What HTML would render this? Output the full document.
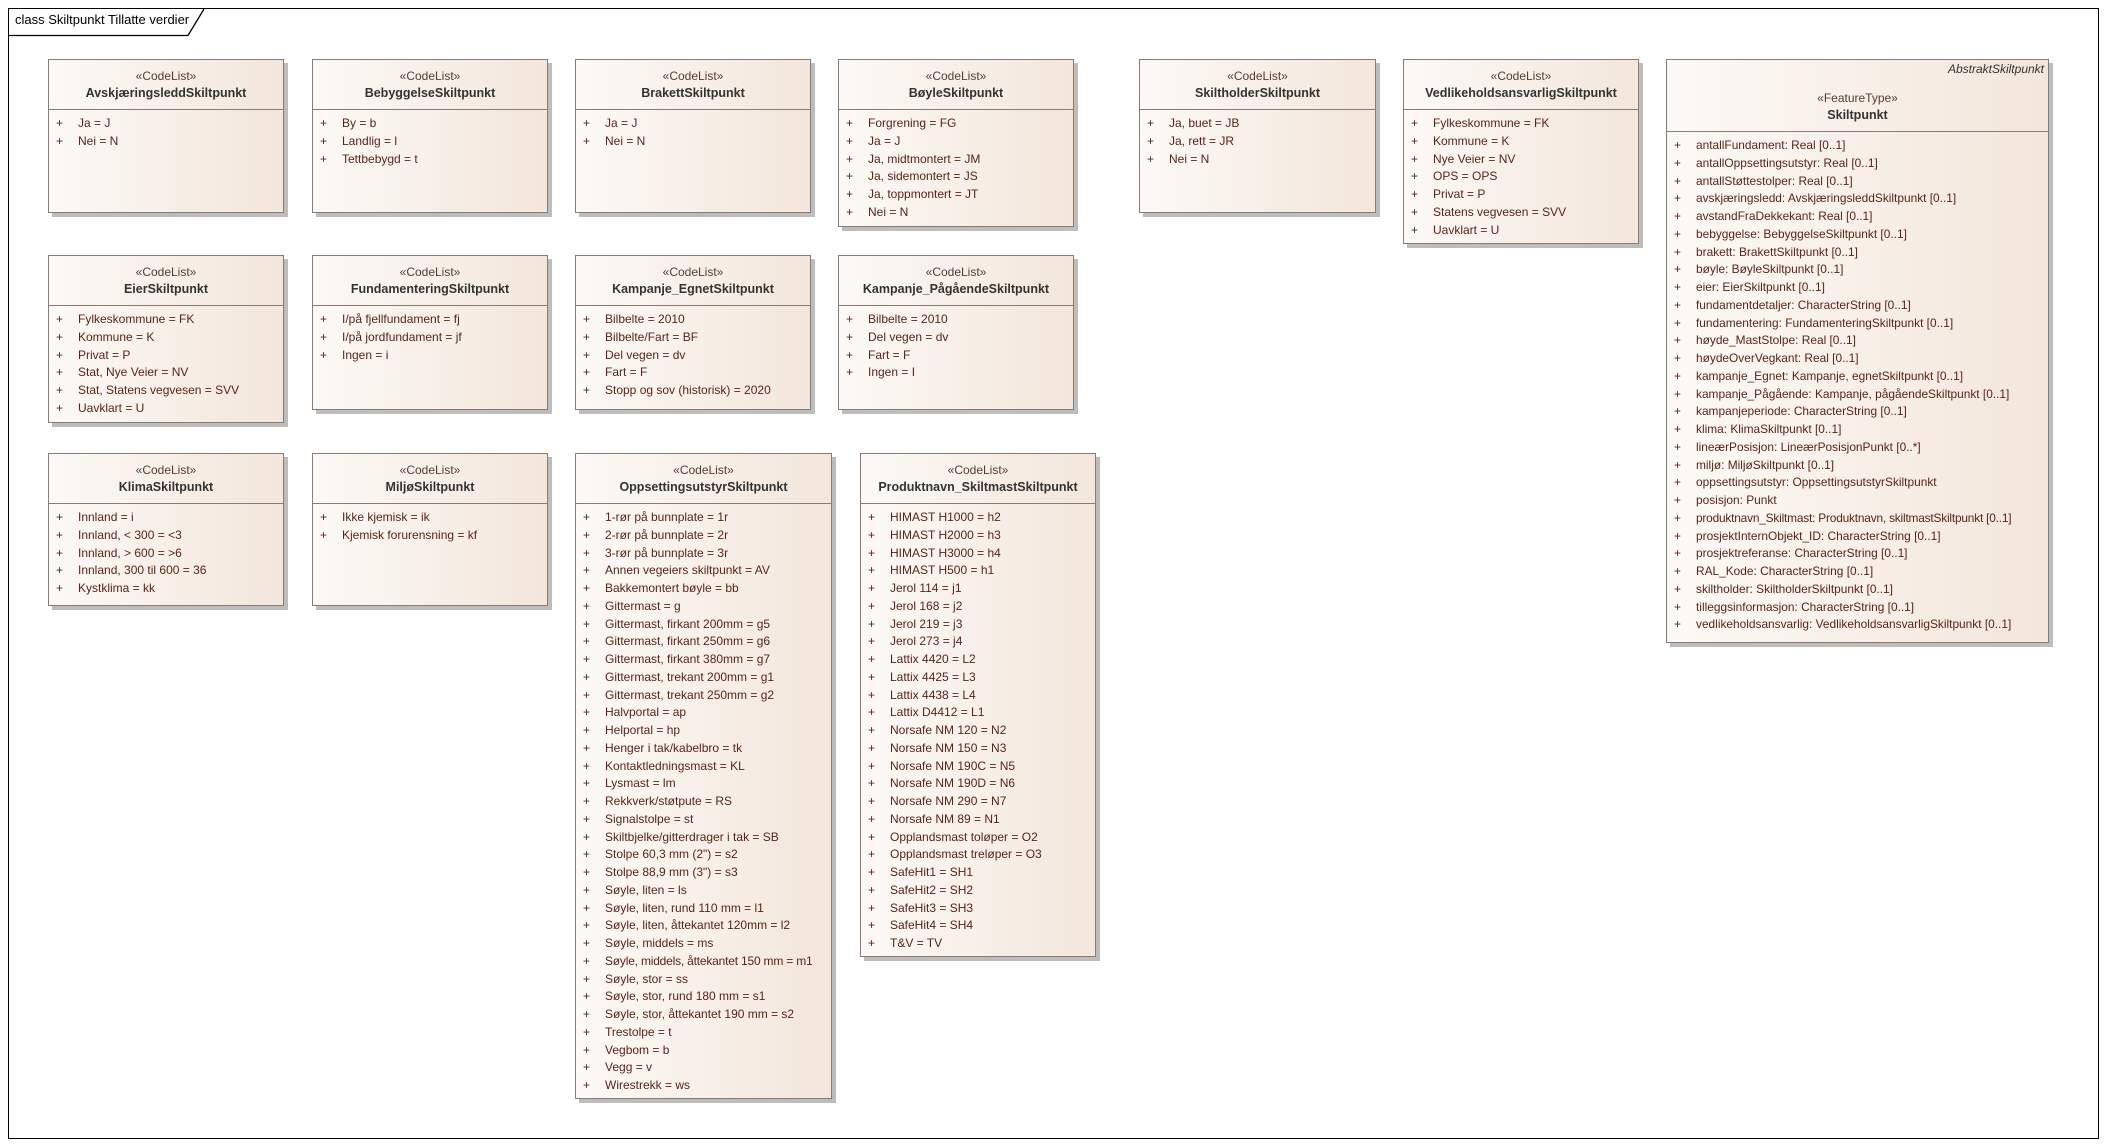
<!DOCTYPE html>
<html><head><meta charset="utf-8"><style>
*{margin:0;padding:0;box-sizing:border-box}
body{width:2106px;height:1146px;background:#fff;position:relative;overflow:hidden;font-family:"Liberation Sans",sans-serif;}
.frame{position:absolute;left:8px;top:8px;width:2091px;height:1131px;border:1.5px solid #000}
.tab{position:absolute;left:8px;top:8px}
.tabt{position:absolute;left:15px;top:12px;font-size:13px;color:#000}
.box{position:absolute;border:1.3px solid #8a7a74;background:linear-gradient(90deg,#fcf9f6,#f3e6db);box-shadow:4px 4px 0 #bdbdbd;color:#5a2316}
.hd{position:absolute;left:0;right:0;top:0;border-bottom:1.3px solid #8a7a74;text-align:center}
.st{font-size:12px;color:#5a3a30;margin-top:8px;line-height:17px}
.nm{font-size:12.5px;font-weight:bold;color:#333;line-height:17px}
.bd{position:absolute;left:0;right:0;font-size:12px;line-height:17.75px;white-space:nowrap}
.r{position:relative;padding-left:29px}
.r:before{content:"+";position:absolute;left:7px}
.ab{position:absolute;right:4px;top:2px;font-size:12px;font-style:italic;color:#333}
</style></head><body>
<div class="frame"></div>
<svg class="tab" width="220" height="30"><path d="M0 27.5 H180 L196 1" fill="none" stroke="#000" stroke-width="1.3"/></svg>
<div class="tabt">class Skiltpunkt Tillatte verdier</div>

<div class="box" style="left:48px;top:59px;width:236px;height:154px"><div class="hd" style="height:50px"><div class="st">«CodeList»</div><div class="nm">AvskjæringsleddSkiltpunkt</div></div><div class="bd" style="top:55px"><div class="r">Ja = J</div><div class="r">Nei = N</div></div></div>

<div class="box" style="left:312px;top:59px;width:236px;height:154px"><div class="hd" style="height:50px"><div class="st">«CodeList»</div><div class="nm">BebyggelseSkiltpunkt</div></div><div class="bd" style="top:55px"><div class="r">By = b</div><div class="r">Landlig = l</div><div class="r">Tettbebygd = t</div></div></div>

<div class="box" style="left:575px;top:59px;width:236px;height:154px"><div class="hd" style="height:50px"><div class="st">«CodeList»</div><div class="nm">BrakettSkiltpunkt</div></div><div class="bd" style="top:55px"><div class="r">Ja = J</div><div class="r">Nei = N</div></div></div>

<div class="box" style="left:838px;top:59px;width:236px;height:168px"><div class="hd" style="height:50px"><div class="st">«CodeList»</div><div class="nm">BøyleSkiltpunkt</div></div><div class="bd" style="top:55px"><div class="r">Forgrening = FG</div><div class="r">Ja = J</div><div class="r">Ja, midtmontert = JM</div><div class="r">Ja, sidemontert = JS</div><div class="r">Ja, toppmontert = JT</div><div class="r">Nei = N</div></div></div>

<div class="box" style="left:1139px;top:59px;width:237px;height:154px"><div class="hd" style="height:50px"><div class="st">«CodeList»</div><div class="nm">SkiltholderSkiltpunkt</div></div><div class="bd" style="top:55px"><div class="r">Ja, buet = JB</div><div class="r">Ja, rett = JR</div><div class="r">Nei = N</div></div></div>

<div class="box" style="left:1403px;top:59px;width:236px;height:185px"><div class="hd" style="height:50px"><div class="st">«CodeList»</div><div class="nm">VedlikeholdsansvarligSkiltpunkt</div></div><div class="bd" style="top:55px"><div class="r">Fylkeskommune = FK</div><div class="r">Kommune = K</div><div class="r">Nye Veier = NV</div><div class="r">OPS = OPS</div><div class="r">Privat = P</div><div class="r">Statens vegvesen = SVV</div><div class="r">Uavklart = U</div></div></div>

<div class="box" style="left:1666px;top:59px;width:383px;height:584px"><div class="ab">AbstraktSkiltpunkt</div><div class="hd" style="height:72px"><div class="st" style="margin-top:30px">«FeatureType»</div><div class="nm">Skiltpunkt</div></div><div class="bd" style="top:77px;font-size:11.9px"><div class="r">antallFundament: Real [0..1]</div><div class="r">antallOppsettingsutstyr: Real [0..1]</div><div class="r">antallStøttestolper: Real [0..1]</div><div class="r">avskjæringsledd: AvskjæringsleddSkiltpunkt [0..1]</div><div class="r">avstandFraDekkekant: Real [0..1]</div><div class="r">bebyggelse: BebyggelseSkiltpunkt [0..1]</div><div class="r">brakett: BrakettSkiltpunkt [0..1]</div><div class="r">bøyle: BøyleSkiltpunkt [0..1]</div><div class="r">eier: EierSkiltpunkt [0..1]</div><div class="r">fundamentdetaljer: CharacterString [0..1]</div><div class="r">fundamentering: FundamenteringSkiltpunkt [0..1]</div><div class="r">høyde_MastStolpe: Real [0..1]</div><div class="r">høydeOverVegkant: Real [0..1]</div><div class="r">kampanje_Egnet: Kampanje, egnetSkiltpunkt [0..1]</div><div class="r">kampanje_Pågående: Kampanje, pågåendeSkiltpunkt [0..1]</div><div class="r">kampanjeperiode: CharacterString [0..1]</div><div class="r">klima: KlimaSkiltpunkt [0..1]</div><div class="r">lineærPosisjon: LineærPosisjonPunkt [0..*]</div><div class="r">miljø: MiljøSkiltpunkt [0..1]</div><div class="r">oppsettingsutstyr: OppsettingsutstyrSkiltpunkt</div><div class="r">posisjon: Punkt</div><div class="r" style="letter-spacing:-0.2px">produktnavn_Skiltmast: Produktnavn, skiltmastSkiltpunkt [0..1]</div><div class="r">prosjektInternObjekt_ID: CharacterString [0..1]</div><div class="r">prosjektreferanse: CharacterString [0..1]</div><div class="r">RAL_Kode: CharacterString [0..1]</div><div class="r">skiltholder: SkiltholderSkiltpunkt [0..1]</div><div class="r">tilleggsinformasjon: CharacterString [0..1]</div><div class="r">vedlikeholdsansvarlig: VedlikeholdsansvarligSkiltpunkt [0..1]</div></div></div>

<div class="box" style="left:48px;top:255px;width:236px;height:168px"><div class="hd" style="height:50px"><div class="st">«CodeList»</div><div class="nm">EierSkiltpunkt</div></div><div class="bd" style="top:55px"><div class="r">Fylkeskommune = FK</div><div class="r">Kommune = K</div><div class="r">Privat = P</div><div class="r">Stat, Nye Veier = NV</div><div class="r">Stat, Statens vegvesen = SVV</div><div class="r">Uavklart = U</div></div></div>

<div class="box" style="left:312px;top:255px;width:236px;height:155px"><div class="hd" style="height:50px"><div class="st">«CodeList»</div><div class="nm">FundamenteringSkiltpunkt</div></div><div class="bd" style="top:55px"><div class="r">I/på fjellfundament = fj</div><div class="r">I/på jordfundament = jf</div><div class="r">Ingen = i</div></div></div>

<div class="box" style="left:575px;top:255px;width:236px;height:155px"><div class="hd" style="height:50px"><div class="st">«CodeList»</div><div class="nm">Kampanje_EgnetSkiltpunkt</div></div><div class="bd" style="top:55px"><div class="r">Bilbelte = 2010</div><div class="r">Bilbelte/Fart = BF</div><div class="r">Del vegen = dv</div><div class="r">Fart = F</div><div class="r">Stopp og sov (historisk) = 2020</div></div></div>

<div class="box" style="left:838px;top:255px;width:236px;height:155px"><div class="hd" style="height:50px"><div class="st">«CodeList»</div><div class="nm">Kampanje_PågåendeSkiltpunkt</div></div><div class="bd" style="top:55px"><div class="r">Bilbelte = 2010</div><div class="r">Del vegen = dv</div><div class="r">Fart = F</div><div class="r">Ingen = I</div></div></div>

<div class="box" style="left:48px;top:453px;width:236px;height:153px"><div class="hd" style="height:50px"><div class="st">«CodeList»</div><div class="nm">KlimaSkiltpunkt</div></div><div class="bd" style="top:55px"><div class="r">Innland = i</div><div class="r">Innland, &lt; 300 = &lt;3</div><div class="r">Innland, &gt; 600 = &gt;6</div><div class="r">Innland, 300 til 600 = 36</div><div class="r">Kystklima = kk</div></div></div>

<div class="box" style="left:312px;top:453px;width:236px;height:153px"><div class="hd" style="height:50px"><div class="st">«CodeList»</div><div class="nm">MiljøSkiltpunkt</div></div><div class="bd" style="top:55px"><div class="r">Ikke kjemisk = ik</div><div class="r">Kjemisk forurensning = kf</div></div></div>

<div class="box" style="left:575px;top:453px;width:257px;height:646px"><div class="hd" style="height:50px"><div class="st">«CodeList»</div><div class="nm">OppsettingsutstyrSkiltpunkt</div></div><div class="bd" style="top:55px"><div class="r">1-rør på bunnplate = 1r</div><div class="r">2-rør på bunnplate = 2r</div><div class="r">3-rør på bunnplate = 3r</div><div class="r">Annen vegeiers skiltpunkt = AV</div><div class="r">Bakkemontert bøyle = bb</div><div class="r">Gittermast = g</div><div class="r">Gittermast, firkant 200mm = g5</div><div class="r">Gittermast, firkant 250mm = g6</div><div class="r">Gittermast, firkant 380mm = g7</div><div class="r">Gittermast, trekant 200mm = g1</div><div class="r">Gittermast, trekant 250mm = g2</div><div class="r">Halvportal = ap</div><div class="r">Helportal = hp</div><div class="r">Henger i tak/kabelbro = tk</div><div class="r">Kontaktledningsmast = KL</div><div class="r">Lysmast = lm</div><div class="r">Rekkverk/støtpute = RS</div><div class="r">Signalstolpe = st</div><div class="r">Skiltbjelke/gitterdrager i tak = SB</div><div class="r">Stolpe 60,3 mm (2") = s2</div><div class="r">Stolpe 88,9 mm (3") = s3</div><div class="r">Søyle, liten = ls</div><div class="r">Søyle, liten, rund 110 mm = l1</div><div class="r">Søyle, liten, åttekantet 120mm = l2</div><div class="r">Søyle, middels = ms</div><div class="r" style="letter-spacing:-0.2px">Søyle, middels, åttekantet 150 mm = m1</div><div class="r">Søyle, stor = ss</div><div class="r">Søyle, stor, rund 180 mm = s1</div><div class="r">Søyle, stor, åttekantet 190 mm = s2</div><div class="r">Trestolpe = t</div><div class="r">Vegbom = b</div><div class="r">Vegg = v</div><div class="r">Wirestrekk = ws</div></div></div>

<div class="box" style="left:860px;top:453px;width:236px;height:504px"><div class="hd" style="height:50px"><div class="st">«CodeList»</div><div class="nm">Produktnavn_SkiltmastSkiltpunkt</div></div><div class="bd" style="top:55px"><div class="r">HIMAST H1000 = h2</div><div class="r">HIMAST H2000 = h3</div><div class="r">HIMAST H3000 = h4</div><div class="r">HIMAST H500 = h1</div><div class="r">Jerol 114 = j1</div><div class="r">Jerol 168 = j2</div><div class="r">Jerol 219 = j3</div><div class="r">Jerol 273 = j4</div><div class="r">Lattix 4420 = L2</div><div class="r">Lattix 4425 = L3</div><div class="r">Lattix 4438 = L4</div><div class="r">Lattix D4412 = L1</div><div class="r">Norsafe NM 120 = N2</div><div class="r">Norsafe NM 150 = N3</div><div class="r">Norsafe NM 190C = N5</div><div class="r">Norsafe NM 190D = N6</div><div class="r">Norsafe NM 290 = N7</div><div class="r">Norsafe NM 89 = N1</div><div class="r">Opplandsmast toløper = O2</div><div class="r">Opplandsmast treløper = O3</div><div class="r">SafeHit1 = SH1</div><div class="r">SafeHit2 = SH2</div><div class="r">SafeHit3 = SH3</div><div class="r">SafeHit4 = SH4</div><div class="r">T&amp;V = TV</div></div></div>

</body></html>
